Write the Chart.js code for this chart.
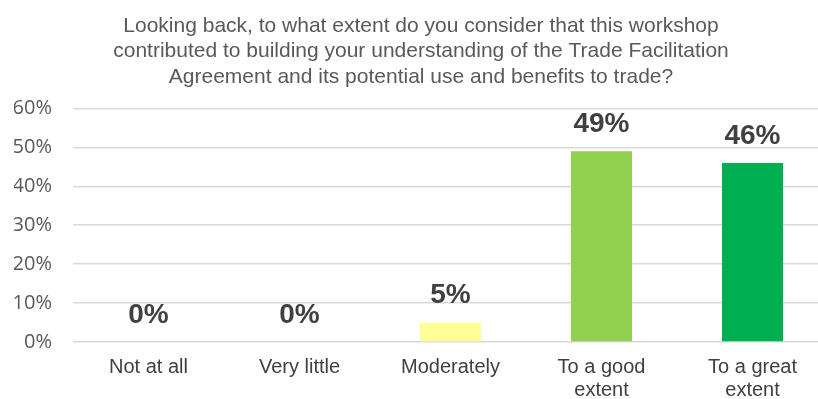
<!DOCTYPE html>
<html>
<head>
<meta charset="utf-8">
<script src="https://cdn.jsdelivr.net/npm/chart.js@4/dist/chart.umd.min.js"></script>
<style>
  html, body { margin: 0; padding: 0; background: #ffffff; overflow: hidden; }
  #wrap { width: 818px; height: 399px; overflow: hidden; position: relative; }
  canvas { display: block; }
</style>
</head>
<body>
<div id="wrap"><canvas id="chart" width="840" height="399"></canvas></div>
<script>
// Survey question and answers
const titleLines = [
  'Looking back, to what extent do you consider that this workshop',
  'contributed to building your understanding of the Trade Facilitation',
  'Agreement and its potential use and benefits to trade?'
];
const categories = [
  'Not at all',
  'Very little',
  'Moderately',
  ['To a good', 'extent'],
  ['To a great', 'extent']
];
// Share of respondents (%)
const shares = [0, 0, 5, 49, 46];
const barColors = ['#FFFF99', '#FFFF99', '#FFFF99', '#92D050', '#00B050'];
const yTicks = [0, 10, 20, 30, 40, 50, 60];

// Bold percentage labels above each bar
const valueLabels = {
  id: 'valueLabels',
  afterDatasetsDraw(chart) {
    const ctx = chart.ctx;
    const meta = chart.getDatasetMeta(0);
    ctx.save();
    ctx.font = 'bold 28px "Liberation Sans", Arial, sans-serif';
    ctx.fillStyle = '#404040';
    ctx.textAlign = 'center';
    ctx.textBaseline = 'middle';
    meta.data.forEach((bar, i) => {
      ctx.fillText(shares[i] + '%', bar.x, bar.y - 27);
    });
    ctx.restore();
  }
};

new Chart(document.getElementById('chart'), {
  type: 'bar',
  data: {
    labels: categories,
    datasets: [{
      data: shares,
      backgroundColor: barColors,
      borderWidth: 0,
      barPercentage: 1,
      categoryPercentage: 0.404
    }]
  },
  options: {
    responsive: false,
    animation: false,
    layout: { padding: { left: 14, right: 12, top: 0, bottom: 0 } },
    plugins: {
      legend: { display: false },
      tooltip: { enabled: false },
      title: {
        display: true,
        text: titleLines,
        color: '#595959',
        font: { family: '"Liberation Sans", Arial, sans-serif', size: 21, weight: 'normal', lineHeight: 1.214 },
        padding: { top: 13, bottom: 19 }
      }
    },
    scales: {
      x: {
        grid: { display: false, drawTicks: false },
        border: { display: false },
        ticks: {
          color: '#404040',
          font: { family: '"Liberation Sans", Arial, sans-serif', size: 20, lineHeight: 1.15 },
          padding: 14,
          maxRotation: 0,
          autoSkip: false
        },
        afterFit(scale) { scale.height = 57; }
      },
      y: {
        min: 0,
        max: 60,
        afterBuildTicks(scale) { scale.ticks = yTicks.map(v => ({ value: v })); },
        grid: { color: '#D9D9D9', lineWidth: 1.5, drawTicks: false },
        border: { display: false },
        ticks: {
          color: '#595959',
          font: { family: '"Open Sans", sans-serif', size: 20 },
          padding: 21,
          callback: v => v + '%'
        },
        afterFit(scale) { scale.width = 59; }
      }
    }
  },
  plugins: [valueLabels]
});
</script>
</body>
</html>
